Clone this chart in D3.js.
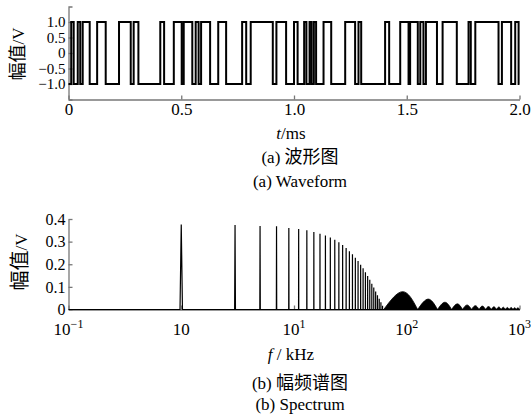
<!DOCTYPE html>
<html>
<head>
<meta charset="utf-8">
<script src="https://cdn.jsdelivr.net/npm/d3@7"></script>
<style>
  body { margin: 0; background: #fff; }
  svg text { font-family: "Liberation Serif", "Times New Roman", serif; fill: #000; }
  .cjk { font-family: "Noto Sans CJK SC", sans-serif; }
  .axis path, .axis line { stroke: #777; stroke-width: 1.3; }
</style>
</head>
<body>
<svg id="chart" width="531" height="414"></svg>
<script>
// ---- waveform (a): level starts low, toggles at each edge time (ms)
var waveStart = -1;
var waveEdges = [0.012, 0.023, 0.041, 0.052, 0.063, 0.094, 0.127, 0.165, 0.224, 0.276,
                 0.289, 0.310, 0.407, 0.424, 0.467, 0.502, 0.511, 0.549, 0.564, 0.577,
                 0.588, 0.628, 0.664, 0.699, 0.770, 0.788, 0.808, 0.906, 0.922, 0.965,
                 1.000, 1.016, 1.045, 1.055, 1.069, 1.078, 1.088, 1.098, 1.131, 1.165,
                 1.227, 1.271, 1.286, 1.298, 1.404, 1.422, 1.471, 1.508, 1.515, 1.549,
                 1.560, 1.574, 1.585, 1.634, 1.659, 1.722, 1.774, 1.784, 1.804, 1.907,
                 1.922, 1.963, 1.981, 1.996];
var timeTicks = [0, 0.5, 1.0, 1.5, 2.0];
var voltTicks = [-1.0, -0.5, 0, 0.5, 1.0];

// ---- spectrum (b): odd harmonics (kHz) and amplitudes (V)
var harmFreqs = [1, 3, 5, 7, 9, 11, 13, 15, 17, 19, 21, 23, 25, 27, 29, 31,
                 33, 35, 37, 39, 41, 43, 45, 47, 49, 51, 53, 55, 57, 59, 61];
var harmAmps = [0.376, 0.373, 0.369, 0.368, 0.360, 0.356, 0.350, 0.342, 0.335, 0.327,
                0.318, 0.308, 0.297, 0.285, 0.272, 0.258, 0.244, 0.229, 0.214, 0.198,
                0.182, 0.165, 0.148, 0.131, 0.114, 0.097, 0.080, 0.063, 0.047, 0.032, 0.017];
// dense side lobes above ~60 kHz
var lobeNulls = [62.5, 125, 187.5, 250, 312.5, 375, 437.5, 500, 562.5, 625, 687.5,
                 750, 812.5, 875, 937.5, 1000];
var lobePeakFreqs = [92, 155, 218, 281, 343, 406, 468, 531, 593, 656, 718, 781, 843, 906, 968];
var lobePeakAmps = [0.079, 0.046, 0.032, 0.025, 0.020, 0.017, 0.015, 0.013, 0.012,
                    0.011, 0.010, 0.009, 0.009, 0.008, 0.008];
var freqTicks = [0.1, 1, 10, 100, 1000];
var freqTickExp = ["\u22121", "", "1", "2", "3"];
var ampTicks = [0, 0.1, 0.2, 0.3, 0.4];

var svg = d3.select("#chart");
var left = 68.5, right = 519.5;

// ================= (a) waveform =================
var x1 = d3.scaleLinear().domain([0, 2]).range([left, right]);
var y1 = d3.scaleLinear().domain([-1.5, 1.5]).range([99.5, 6.5]);

var fmt1 = function(d) { return d === 0 ? "0" : d3.format(".1f")(d); };

var gx1 = svg.append("g").attr("class", "axis")
    .attr("transform", "translate(0," + y1(-1.5) + ")")
    .call(d3.axisBottom(x1).tickValues(timeTicks).tickSize(-4).tickSizeOuter(0).tickFormat(fmt1));
var gy1 = svg.append("g").attr("class", "axis")
    .attr("transform", "translate(" + left + ",0)")
    .call(d3.axisLeft(y1).tickValues(voltTicks).tickSize(-4).tickSizeOuter(-4).tickFormat(fmt1));

var pts = [[0, waveStart]];
var lvl = waveStart;
waveEdges.forEach(function(t) {
    pts.push([t, lvl]);
    lvl = -lvl;
    pts.push([t, lvl]);
});
pts.push([2, lvl]);

var waveLine = d3.line().x(function(d) { return x1(d[0]); }).y(function(d) { return y1(d[1]); });
svg.append("path").attr("d", waveLine(pts))
    .attr("fill", "none").attr("stroke", "#000").attr("stroke-width", 2);

// ================= (b) spectrum =================
var x2 = d3.scaleLog().domain([0.1, 1000]).range([left, right]);
var y2 = d3.scaleLinear().domain([0, 0.4]).range([309.5, 219]);

var gx2 = svg.append("g").attr("class", "axis")
    .attr("transform", "translate(0," + y2(0) + ")")
    .call(d3.axisBottom(x2).tickValues(freqTicks).tickSize(-4).tickSizeOuter(0).tickFormat(""));
var gy2 = svg.append("g").attr("class", "axis")
    .attr("transform", "translate(" + left + ",0)")
    .call(d3.axisLeft(y2).tickValues(ampTicks).tickSize(-4).tickSizeOuter(0)
        .tickFormat(function(d) { return d === 0 ? "0" : d3.format(".1f")(d); }));

// decade labels with exponents
freqTicks.forEach(function(f, i) {
    var t = svg.append("text").attr("x", x2(f)).attr("y", 335)
        .attr("text-anchor", "middle").attr("font-size", 17);
    t.append("tspan").text("10");
    if (freqTickExp[i]) t.append("tspan").attr("dy", -7).attr("font-size", 12).text(freqTickExp[i]);
});

// harmonic lines drawn as narrow peaks on the zero trace
var bin = 0.025;
var spec = [[0.1, 0]];
harmFreqs.forEach(function(f, i) {
    spec.push([f - bin, 0], [f, harmAmps[i]], [f + bin, 0]);
});
spec.push([1000, 0]);
var specLine = d3.line().x(function(d) { return x2(d[0]); }).y(function(d) { return y2(d[1]); });
svg.append("path").attr("d", specLine(spec))
    .attr("fill", "none").attr("stroke", "#000").attr("stroke-width", 1.2);

var lobeLine = d3.line().x(function(d) { return x2(d[0]); }).y(function(d) { return y2(d[1]); })
    .curve(d3.curveNatural);
lobePeakFreqs.forEach(function(f, i) {
    var p = [[lobeNulls[i], 0], [f, lobePeakAmps[i]], [lobeNulls[i + 1], 0]];
    svg.append("path").attr("d", lobeLine(p) + "Z").attr("fill", "#000").attr("stroke", "#000")
        .attr("stroke-width", 0.8);
});

// ================= texts =================
svg.selectAll(".axis text").attr("font-size", 17)
    .style("font-family", "'Liberation Serif', serif");
gy1.selectAll("text").attr("font-size", 15);
gy2.selectAll("text").attr("font-size", 16);

function yLabel(cx, cy, size) {
    var t = svg.append("text").attr("transform", "translate(" + cx + "," + cy + ") rotate(-90)")
        .attr("text-anchor", "middle").attr("font-size", 17);
    t.append("tspan").attr("class", "cjk").attr("font-size", size).text("幅值");
    t.append("tspan").text("/V");
}
yLabel(24, 54, 18);
yLabel(27, 262, 20);

var tl = svg.append("text").attr("x", 291).attr("y", 139).attr("text-anchor", "middle").attr("font-size", 17);
tl.append("tspan").attr("font-style", "italic").text("t");
tl.append("tspan").text("/ms");

var fl = svg.append("text").attr("x", 291).attr("y", 360).attr("text-anchor", "middle").attr("font-size", 17);
fl.append("tspan").attr("font-style", "italic").text("f");
fl.append("tspan").text(" / kHz");

function caption(y, pre, cjk) {
    var t = svg.append("text").attr("x", 300).attr("y", y).attr("text-anchor", "middle").attr("font-size", 17);
    t.append("tspan").text(pre);
    t.append("tspan").attr("class", "cjk").attr("font-size", 18).text(cjk);
}
caption(163, "(a) ", "波形图");
svg.append("text").attr("x", 300).attr("y", 187).attr("text-anchor", "middle").attr("font-size", 17).text("(a) Waveform");
caption(389, "(b) ", "幅频谱图");
svg.append("text").attr("x", 300).attr("y", 410).attr("text-anchor", "middle").attr("font-size", 17).text("(b) Spectrum");
</script>
</body>
</html>
